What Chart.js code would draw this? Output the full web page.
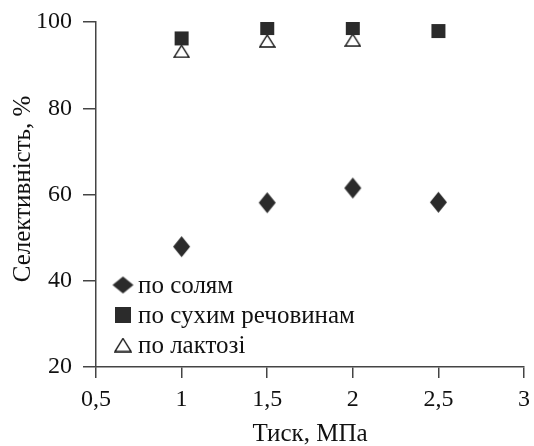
<!DOCTYPE html>
<html>
<head>
<meta charset="utf-8">
<script src="https://cdn.jsdelivr.net/npm/chart.js@4.4.0/dist/chart.umd.min.js"></script>
<style>
html, body { margin: 0; padding: 0; background: #fff; }
#wrap { width: 534px; height: 446px; }
</style>
</head>
<body>
<div id="wrap"><canvas id="myChart"></canvas></div>
<script>
// tlak (MPa) i selektyvnist (%)
const tiskX = [1, 1.5, 2, 2.5];
const poSolyam = [47.9, 58.1, 61.5, 58.2];
const poSukhym = [96.2, 98.6, 98.6, 97.9];
const tiskLaktoza = [1, 1.5, 2];
const poLaktozi = [93.2, 95.6, 95.8];

const xTicks = [0.5, 1, 1.5, 2, 2.5, 3];
const xTickLabels = ['0,5', '1', '1,5', '2', '2,5', '3'];
const yTicks = [20, 40, 60, 80, 100];
const yTickLabels = ['20', '40', '60', '80', '100'];

const nazvy = ['по солям', 'по сухим речовинам', 'по лактозі'];

const tekst = '#111';
const temnyi = '#2b2b2b';
const shryft = '"Liberation Serif", "Times New Roman", serif';

// markery
function marker(tip, w, h) {
    const c = document.createElement('canvas');
    c.width = w + 2;
    c.height = h + 2;
    const g = c.getContext('2d');
    g.beginPath();
    if (tip === 'romb') {
        g.moveTo(1 + w / 2, 1);
        g.lineTo(1 + w, 1 + h / 2);
        g.lineTo(1 + w / 2, 1 + h);
        g.lineTo(1, 1 + h / 2);
        g.closePath();
        g.fillStyle = temnyi;
        g.fill();
    } else if (tip === 'kvadrat') {
        g.rect(1, 1, w, h);
        g.fillStyle = temnyi;
        g.fill();
    } else {
        g.moveTo(1 + w / 2, 1);
        g.lineTo(1 + w, 1 + h);
        g.lineTo(1, 1 + h);
        g.closePath();
        g.fillStyle = '#fff';
        g.fill();
        g.lineWidth = 1.4;
        g.strokeStyle = '#111';
        g.stroke();
    }
    return c;
}

const rombDani = marker('romb', 17, 21);
const kvadratDani = marker('kvadrat', 14, 14);
const trykutDani = marker('trykut', 15, 12);

const legendaZnaky = [marker('romb', 21, 17), marker('kvadrat', 16, 16), marker('trykut', 16, 13)];

const legenda = {
    id: 'legenda',
    afterDraw(chart) {
        const { ctx, chartArea } = chart;
        ctx.save();
        // nazva osi y
        ctx.font = '25px ' + shryft;
        ctx.fillStyle = tekst;
        ctx.textAlign = 'center';
        ctx.textBaseline = 'middle';
        ctx.translate(23, 189);
        ctx.rotate(-Math.PI / 2);
        ctx.fillText('Селективність, %', 0, 0);
        ctx.restore();

        ctx.save();
        ctx.font = '25px ' + shryft;
        ctx.fillStyle = tekst;
        ctx.textAlign = 'left';
        ctx.textBaseline = 'middle';
        const vidstup = [82, 52, 22];
        for (let i = 0; i < nazvy.length; i++) {
            const y = chartArea.bottom - vidstup[i];
            const z = legendaZnaky[i];
            ctx.drawImage(z, chartArea.left + 27 - z.width / 2, y - z.height / 2);
            ctx.fillText(nazvy[i], chartArea.left + 42, y + 1);
        }
        ctx.restore();
    }
};

const ctx = document.getElementById('myChart');
const myChart = new Chart(ctx, {
    type: 'scatter',
    data: {
        datasets: [{
            label: nazvy[0],
            data: tiskX.map((x, i) => ({ x: x, y: poSolyam[i] })),
            pointStyle: rombDani,
            pointRadius: 9
        }, {
            label: nazvy[1],
            data: tiskX.map((x, i) => ({ x: x, y: poSukhym[i] })),
            pointStyle: kvadratDani,
            pointRadius: 8
        }, {
            label: nazvy[2],
            data: tiskLaktoza.map((x, i) => ({ x: x, y: poLaktozi[i] })),
            pointStyle: trykutDani,
            pointRadius: 8
        }]
    },
    options: {
        responsive: true,
        maintainAspectRatio: false,
        animation: false,
        layout: {
            padding: { top: 22, right: 5, left: 0, bottom: 0 }
        },
        plugins: {
            legend: { display: false },
            tooltip: { enabled: false }
        },
        scales: {
            x: {
                type: 'linear',
                min: 0.5,
                max: 3,
                afterBuildTicks: s => { s.ticks = xTicks.map(v => ({ value: v })); },
                afterFit: s => { s.height = 79; s.paddingLeft = 0; s.paddingRight = 0; },
                ticks: {
                    callback: (v, i) => xTickLabels[i],
                    color: tekst,
                    font: { family: shryft, size: 24 },
                    padding: 7,
                    maxRotation: 0
                },
                grid: { drawOnChartArea: false, tickLength: 11, color: '#444', lineWidth: 1.5 },
                border: { color: '#444', width: 1.5 },
                title: {
                    display: true,
                    text: 'Тиск, МПа',
                    color: tekst,
                    font: { family: shryft, size: 25 },
                    padding: { top: 0, bottom: -3 }
                }
            },
            y: {
                type: 'linear',
                min: 20,
                max: 100,
                afterBuildTicks: s => { s.ticks = yTicks.map(v => ({ value: v })); },
                afterFit: s => { s.width = 96; s.paddingTop = 0; s.paddingBottom = 0; },
                ticks: {
                    callback: (v, i) => yTickLabels[i],
                    color: tekst,
                    font: { family: shryft, size: 24 },
                    padding: 11
                },
                grid: { drawOnChartArea: false, tickLength: 13, color: '#444', lineWidth: 1.5 },
                border: { color: '#444', width: 1.5 }
            }
        }
    },
    plugins: [legenda]
});
</script>
</body>
</html>
